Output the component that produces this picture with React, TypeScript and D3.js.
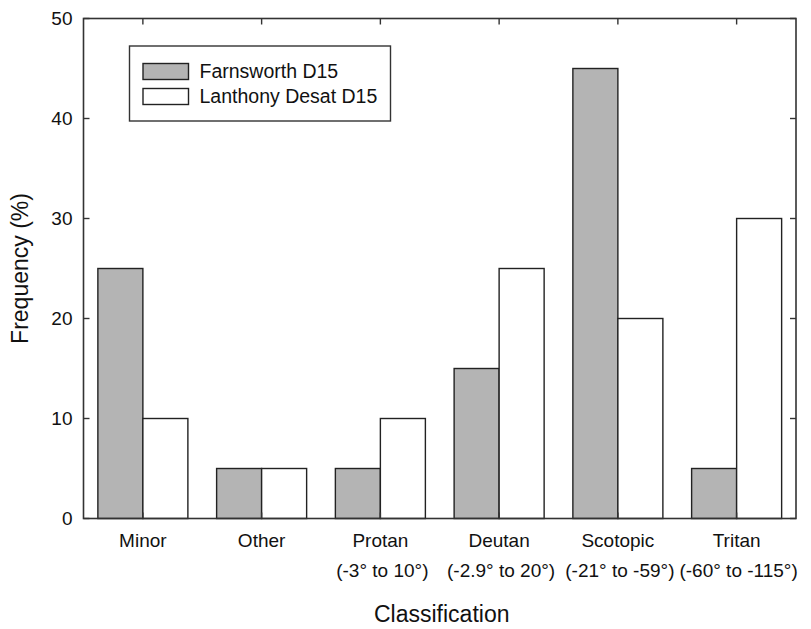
import { useRef, useEffect } from 'react'
import * as d3 from 'd3'

const categories = ['Minor', 'Other', 'Protan', 'Deutan', 'Scotopic', 'Tritan']
const subLabels = ['', '', '(-3° to 10°)', '(-2.9° to 20°)', '(-21° to -59°)', '(-60° to -115°)']
const seriesNames = ['Farnsworth D15', 'Lanthony Desat D15']
const farnsworth = [25, 5, 5, 15, 45, 5]
const lanthony = [10, 5, 10, 25, 20, 30]
const yTicks = [0, 10, 20, 30, 40, 50]

export default function App() {
  const chartRef = useRef<SVGSVGElement | null>(null)

  useEffect(() => {
    const node = chartRef.current
    if (node === null) {
      return
    }
    const width = 811
    const height = 629
    const margin = { top: 18.5, right: 15, bottom: 110.5, left: 83.5 }
    const innerW = width - margin.left - margin.right
    const innerH = height - margin.top - margin.bottom
    const font = '"Liberation Sans", Arial, sans-serif'
    const ink = '#333'
    const fills = ['#b4b4b4', '#ffffff']

    const svg = d3.select(node)
    svg.selectAll('*').remove()
    svg.attr('width', width).attr('height', height)

    const g = svg.append('g').attr('transform', `translate(${margin.left},${margin.top})`)

    const x = d3.scaleBand<string>()
      .domain(categories)
      .range([0, innerW])
      .paddingInner(0.242)
      .paddingOuter(0.121)
    const xSub = d3.scaleBand<string>()
      .domain(seriesNames)
      .range([0, x.bandwidth()])
    const y = d3.scaleLinear().domain([0, 50]).range([innerH, 0])

    const rows = categories.map((c, i) => ({ cat: c, values: [farnsworth[i], lanthony[i]] }))

    // bars
    const groups = g.selectAll('g.cat')
      .data(rows)
      .enter().append('g')
      .attr('transform', d => `translate(${x(d.cat)},0)`)
    groups.selectAll('rect')
      .data(d => d.values.map((v, j) => ({ name: seriesNames[j], v, j })))
      .enter().append('rect')
      .attr('x', d => xSub(d.name) as number)
      .attr('y', d => y(d.v))
      .attr('width', xSub.bandwidth())
      .attr('height', d => innerH - y(d.v))
      .attr('fill', d => fills[d.j])
      .attr('stroke', '#222')
      .attr('stroke-width', 1.4)

    // frame
    g.append('rect')
      .attr('width', innerW)
      .attr('height', innerH)
      .attr('fill', 'none')
      .attr('stroke', ink)
      .attr('stroke-width', 1.6)

    // inward ticks
    const tickLen = 6
    yTicks.forEach(t => {
      g.append('line').attr('x1', 0).attr('x2', tickLen).attr('y1', y(t)).attr('y2', y(t))
        .attr('stroke', ink).attr('stroke-width', 1.4)
      g.append('line').attr('x1', innerW).attr('x2', innerW - tickLen).attr('y1', y(t)).attr('y2', y(t))
        .attr('stroke', ink).attr('stroke-width', 1.4)
      g.append('text')
        .attr('x', -11)
        .attr('y', y(t))
        .attr('dy', '0.36em')
        .attr('text-anchor', 'end')
        .style('font-family', font)
        .style('font-size', '19px')
        .attr('fill', '#111')
        .text(t)
    })
    categories.forEach(c => {
      const cx = (x(c) as number) + x.bandwidth() / 2
      g.append('line').attr('x1', cx).attr('x2', cx).attr('y1', 0).attr('y2', tickLen)
        .attr('stroke', ink).attr('stroke-width', 1.4)
      g.append('line').attr('x1', cx).attr('x2', cx).attr('y1', innerH).attr('y2', innerH - tickLen)
        .attr('stroke', ink).attr('stroke-width', 1.4)
    })

    // category labels
    categories.forEach((c, i) => {
      const cx = (x(c) as number) + x.bandwidth() / 2
      g.append('text')
        .attr('x', cx)
        .attr('y', innerH + 28)
        .attr('text-anchor', 'middle')
        .style('font-family', font)
        .style('font-size', '19px')
        .attr('fill', '#111')
        .text(c)
      if (subLabels[i]) {
        g.append('text')
          .attr('x', cx + 2)
          .attr('y', innerH + 58)
          .attr('text-anchor', 'middle')
          .style('font-family', font)
          .style('font-size', '19px')
          .attr('fill', '#111')
          .text(subLabels[i])
      }
    })

    // axis titles
    svg.append('text')
      .attr('x', margin.left + innerW / 2 + 2)
      .attr('y', 622)
      .attr('text-anchor', 'middle')
      .style('font-family', font)
      .style('font-size', '23px')
      .attr('fill', '#111')
      .text('Classification')
    svg.append('text')
      .attr('transform', `translate(28,${margin.top + innerH / 2}) rotate(-90)`)
      .attr('text-anchor', 'middle')
      .style('font-family', font)
      .style('font-size', '23px')
      .attr('fill', '#111')
      .text('Frequency (%)')

    // legend
    const legend = svg.append('g')
    legend.append('rect')
      .attr('x', 129.5).attr('y', 46)
      .attr('width', 261).attr('height', 75)
      .attr('fill', '#fff')
      .attr('stroke', ink)
      .attr('stroke-width', 1.4)
    seriesNames.forEach((name, j) => {
      legend.append('rect')
        .attr('x', 143).attr('y', 63.5 + j * 25)
        .attr('width', 45.5).attr('height', 16)
        .attr('fill', fills[j])
        .attr('stroke', '#222')
        .attr('stroke-width', 1.4)
      legend.append('text')
        .attr('x', 199.5)
        .attr('y', 77.8 + j * 25.3)
        .style('font-family', font)
        .style('font-size', '19.5px')
        .attr('fill', '#111')
        .text(name)
    })
  })

  return (
    <svg ref={chartRef} style={{ position: 'absolute', left: 0, top: 0, background: '#fff' }}></svg>
  )
}
